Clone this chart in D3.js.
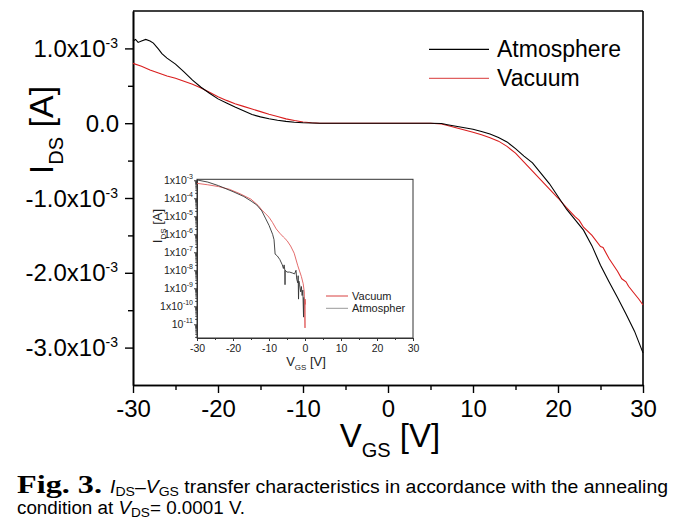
<!DOCTYPE html>
<html><head><meta charset="utf-8">
<script src="https://cdn.jsdelivr.net/npm/d3@7"></script>
<style>body{margin:0;background:#fff}svg{display:block}</style>
</head><body>
<svg id="c" width="689" height="525"></svg>
<script>
// ---------- Main plot data (V_GS in V, I_DS in units of 1e-3 A) ----------
const vAtm = [-30,-29.7,-29.4,-29,-28.5,-28,-27.6,-27,-26.6,-26,-25,-24,-23,-22,-21,-20,-19,-18,-17,-16,-15,-14,-13,-12,-11,-10,-9,-8,0,5,6.3,7,8,9,10,11,12,13,14,15,16,17,18,19,20,21,22,23,24,25,26,27,28,29,30];
const iAtm = [1.10,1.12,1.08,1.10,1.12,1.10,1.07,0.99,0.93,0.87,0.79,0.685,0.575,0.48,0.40,0.325,0.27,0.215,0.165,0.115,0.085,0.06,0.04,0.024,0.013,0.006,0.002,0,0,0,-0.005,-0.02,-0.04,-0.06,-0.08,-0.11,-0.145,-0.19,-0.25,-0.34,-0.44,-0.53,-0.67,-0.81,-0.98,-1.15,-1.29,-1.43,-1.64,-1.90,-2.12,-2.33,-2.55,-2.78,-3.07];
const vVac = [-30,-29,-28,-27,-26,-25,-24,-23,-22,-21,-20,-19,-18,-17,-16,-15,-14,-13,-12,-11,-10,-9,-8,0,5,6.3,7,8,9,10,11,12,13,14,15,16,17,18,19,20,21,22,22.5,23,24,25,25.3,26,27,27.5,28,28.3,29,29.5,30];
const iVac = [0.80,0.76,0.71,0.67,0.63,0.60,0.56,0.52,0.47,0.415,0.355,0.305,0.26,0.225,0.19,0.155,0.12,0.09,0.058,0.035,0.015,0.005,0,0,0,-0.01,-0.03,-0.06,-0.09,-0.12,-0.155,-0.195,-0.24,-0.31,-0.40,-0.52,-0.64,-0.76,-0.88,-1.00,-1.13,-1.25,-1.30,-1.39,-1.50,-1.65,-1.66,-1.81,-1.98,-2.08,-2.12,-2.18,-2.28,-2.35,-2.43];

// ---------- Inset data (log10 of I_DS) ----------
const vAtmLog = [-30,-27,-24,-20,-17,-15,-13.4,-12,-11,-10,-9,-8.6,-8.3,-7.7,-7,-6.3,-6,-5.8,-5.6,-5.55,-5.5,-5,-4.25,-3.5,-2.9,-2.5,-2.3,-2,-1.9,-1.8,-1.7,-1.5,-1.2,-1,-0.8,-0.6,-0.4,-0.35];
const lAtmLog = [-2.98,-3.1,-3.3,-3.63,-3.9,-4.15,-4.37,-4.7,-5.1,-5.5,-6.0,-6.3,-7.1,-7.2,-7.4,-7.7,-7.9,-7.7,-8.0,-8.8,-8.0,-8.1,-8.1,-8.15,-8.2,-8.0,-8.5,-8.7,-8.3,-9.6,-8.6,-8.8,-9.2,-8.9,-9.4,-9.1,-10.6,-9.5];
const vVacLog = [-30,-27,-24,-21,-18,-15,-13,-12,-11,-10,-9,-8,-7,-6,-5,-4,-3,-2,-1,-0.5,-0.2,0,0.05,0.15];
const lVacLog = [-3.17,-3.25,-3.35,-3.5,-3.75,-4.05,-4.4,-4.65,-4.85,-5.05,-5.35,-5.7,-5.94,-6.15,-6.35,-6.65,-7.05,-7.75,-8.35,-8.75,-9.2,-11.2,-9.6,-9.9];

// ---------- Ticks / labels ----------
const xTicks = [-30,-20,-10,0,10,20,30];
const xMinor = [-25,-15,-5,5,15,25];
const yTicks = [1e-3,0,-1e-3,-2e-3,-3e-3];
const yMinor = [0.5e-3,-0.5e-3,-1.5e-3,-2.5e-3];
const insetYTicks = [-3,-4,-5,-6,-7,-8,-9,-10,-11];
const legendNames = ["Atmosphere","Vacuum"];
const insetLegendNames = ["Vacuum","Atmospher"];

const svg = d3.select("#c");
const SANS = "'Liberation Sans', Arial, sans-serif";
const RED = "#d91e1e";
const fmtTick = d => String(d);

const x = d3.scaleLinear().domain([-30,30]).range([133,643]);
const y = d3.scaleLinear().domain([-3.5e-3,1.5e-3]).range([385,11]);

// frame top/right
svg.append("line").attr("x1",133).attr("x2",643).attr("y1",y(1.5e-3)).attr("y2",y(1.5e-3)).attr("stroke","#000").attr("stroke-width",1.6);
svg.append("line").attr("x1",x(30)).attr("x2",x(30)).attr("y1",11).attr("y2",385).attr("stroke","#000").attr("stroke-width",1.6);

// x axis
const gx = svg.append("g").attr("transform","translate(0,385)");
gx.call(d3.axisBottom(x).tickValues(xTicks).tickSize(8).tickSizeOuter(0).tickFormat(fmtTick));
gx.append("g").call(d3.axisBottom(x).tickValues(xMinor).tickSize(5).tickSizeOuter(0).tickFormat(""));
gx.selectAll(".domain").attr("stroke-width",1.6);
gx.selectAll("line").attr("stroke-width",1.4);
gx.selectAll("text").attr("font-family",SANS).attr("font-size",24).attr("fill","#000").attr("dy",0).attr("y",32);

// y axis
const gy = svg.append("g").attr("transform","translate(133,0)");
gy.call(d3.axisLeft(y).tickValues(yTicks).tickSize(8).tickSizeOuter(0).tickFormat(""));
gy.append("g").call(d3.axisLeft(y).tickValues(yMinor).tickSize(5).tickSizeOuter(0).tickFormat(""));
gy.selectAll(".domain").attr("stroke-width",1.6);
gy.selectAll("line").attr("stroke-width",1.4);
yTicks.forEach(v=>{
  const t = svg.append("text").attr("x",118).attr("y",y(v)+8.5).attr("text-anchor","end")
    .attr("font-family",SANS).attr("font-size",24).attr("fill","#000");
  if (v===0) { t.attr("x",119).text("0.0"); }
  else {
    t.append("tspan").text((v/1e-3).toFixed(1)+"x10");
    t.append("tspan").attr("font-size",14).attr("dy",-9).text("-3");
  }
});

// axis titles
const yt = svg.append("text").attr("transform","translate(53,130) rotate(-90)").attr("text-anchor","middle")
  .attr("font-family",SANS).attr("font-size",34).attr("fill","#000");
yt.append("tspan").text("I");
yt.append("tspan").attr("font-size",20).attr("dy",10).text("DS");
yt.append("tspan").attr("dy",-10).text(" [A]");
const xt = svg.append("text").attr("x",390).attr("y",447).attr("text-anchor","middle")
  .attr("font-family",SANS).attr("font-size",33).attr("fill","#000");
xt.append("tspan").text("V");
xt.append("tspan").attr("font-size",20).attr("dy",10).text("GS");
xt.append("tspan").attr("dy",-10).text(" [V]");

// main lines
const line = d3.line().x(d=>x(d[0])).y(d=>y(d[1]*1e-3));
svg.append("path").datum(d3.zip(vVac,iVac)).attr("d",line).attr("fill","none").attr("stroke",RED).attr("stroke-width",1.1);
svg.append("path").datum(d3.zip(vAtm,iAtm)).attr("d",line).attr("fill","none").attr("stroke","#000").attr("stroke-width",1.1);

// legend
const legColors = ["#000", "#e06060"];
legendNames.forEach((n,i)=>{
  const ly = 49.3 + i*29;
  svg.append("line").attr("x1",429).attr("x2",489).attr("y1",ly).attr("y2",ly).attr("stroke",legColors[i]).attr("stroke-width",1.2);
  svg.append("text").attr("x",497).attr("y",ly+7.5).attr("font-family",SANS).attr("font-size",23).attr("fill","#000").text(n);
});

// ---------- Inset ----------
const xi = d3.scaleLinear().domain([-30,30]).range([197,413]);
const yi = d3.scaleLog().domain([Math.pow(10,-11.76),Math.pow(10,-2.945)]).range([338,179.3]);
svg.append("rect").attr("x",197).attr("y",179.3).attr("width",216).attr("height",338-179.3)
  .attr("fill","#fff").attr("stroke","#333").attr("stroke-width",1);
const gix = svg.append("g").attr("transform","translate(0,338)");
gix.call(d3.axisBottom(xi).tickValues(xTicks).tickSize(3).tickSizeOuter(0).tickFormat(fmtTick));
gix.append("g").call(d3.axisBottom(xi).tickValues(xMinor).tickSize(2).tickSizeOuter(0).tickFormat(""));
gix.selectAll("text").attr("font-family",SANS).attr("font-size",10.5).attr("fill","#222").attr("dy",0).attr("y",14);
gix.selectAll("path,line").attr("stroke","#333");
const minorLog = [];
for (let e=-12;e<=-3;e++) for (let m=2;m<=9;m++){ const v=m*Math.pow(10,e); if (v>yi.domain()[0] && v<yi.domain()[1]) minorLog.push(v); }
const giy = svg.append("g").attr("transform","translate(197,0)");
giy.call(d3.axisLeft(yi).tickValues(insetYTicks.map(e=>Math.pow(10,e))).tickSize(3).tickSizeOuter(0).tickFormat(""));
giy.append("g").call(d3.axisLeft(yi).tickValues(minorLog).tickSize(1.8).tickSizeOuter(0).tickFormat(""));
giy.selectAll("path,line").attr("stroke","#333");
insetYTicks.forEach(e=>{
  const t = svg.append("text").attr("x",193).attr("y",yi(Math.pow(10,e))+4).attr("text-anchor","end")
    .attr("font-family",SANS).attr("font-size",10.5).attr("fill","#222");
  t.append("tspan").text(e===-11 ? "10" : "1x10");
  t.append("tspan").attr("font-size",7).attr("dy",-5).text(String(e));
});
const iyt = svg.append("text").attr("transform","translate(162,226) rotate(-90)").attr("text-anchor","middle")
  .attr("font-family",SANS).attr("font-size",13).attr("fill","#222");
iyt.append("tspan").text("I");
iyt.append("tspan").attr("font-size",8).attr("dy",4).text("DS");
iyt.append("tspan").attr("dy",-4).text(" [A]");
const ixt = svg.append("text").attr("x",306).attr("y",366).attr("text-anchor","middle")
  .attr("font-family",SANS).attr("font-size",13).attr("fill","#222");
ixt.append("tspan").text("V");
ixt.append("tspan").attr("font-size",8).attr("dy",4).text("GS");
ixt.append("tspan").attr("dy",-4).text(" [V]");

const lineLog = d3.line().x(d=>xi(d[0])).y(d=>yi(Math.pow(10,d[1])));
svg.append("path").datum(d3.zip(vVacLog,lVacLog)).attr("d",lineLog).attr("fill","none").attr("stroke","#e05a5a").attr("stroke-width",0.9);
svg.append("path").datum(d3.zip(vAtmLog,lAtmLog)).attr("d",lineLog).attr("fill","none").attr("stroke","#333").attr("stroke-width",0.9);
const insetLegColors = ["#d84040","#999"];
insetLegendNames.forEach((n,i)=>{
  const ly = 296 + i*12.3;
  svg.append("line").attr("x1",326).attr("x2",348).attr("y1",ly).attr("y2",ly).attr("stroke",insetLegColors[i]).attr("stroke-width",1);
  svg.append("text").attr("x",352).attr("y",ly+4).attr("font-family",SANS).attr("font-size",11).attr("fill","#222").text(n);
});

// ---------- Caption ----------
svg.append("text").attr("x",17).attr("y",493).attr("font-family","'Liberation Serif', 'Times New Roman', serif")
  .attr("font-weight","bold").attr("font-size",26).attr("fill","#000")
  .attr("textLength",85).attr("lengthAdjust","spacingAndGlyphs").text("Fig. 3.");
const c1 = svg.append("text").attr("x",110).attr("y",493).attr("font-family",SANS).attr("font-size",18).attr("fill","#000")
  .attr("textLength",558).attr("lengthAdjust","spacingAndGlyphs");
c1.append("tspan").attr("font-style","italic").text("I");
c1.append("tspan").attr("font-size",13).attr("dy",3).text("DS");
c1.append("tspan").attr("dy",-3).text("–");
c1.append("tspan").attr("font-style","italic").text("V");
c1.append("tspan").attr("font-size",13).attr("dy",3).text("GS");
c1.append("tspan").attr("dy",-3).text(" transfer characteristics in accordance with the annealing");
const c2 = svg.append("text").attr("x",17).attr("y",514).attr("font-family",SANS).attr("font-size",18).attr("fill","#000")
  .attr("textLength",228).attr("lengthAdjust","spacingAndGlyphs");
c2.append("tspan").text("condition at ");
c2.append("tspan").attr("font-style","italic").text("V");
c2.append("tspan").attr("font-size",13).attr("dy",3).text("DS");
c2.append("tspan").attr("dy",-3).text("= 0.0001 V.");
</script>
</body></html>
